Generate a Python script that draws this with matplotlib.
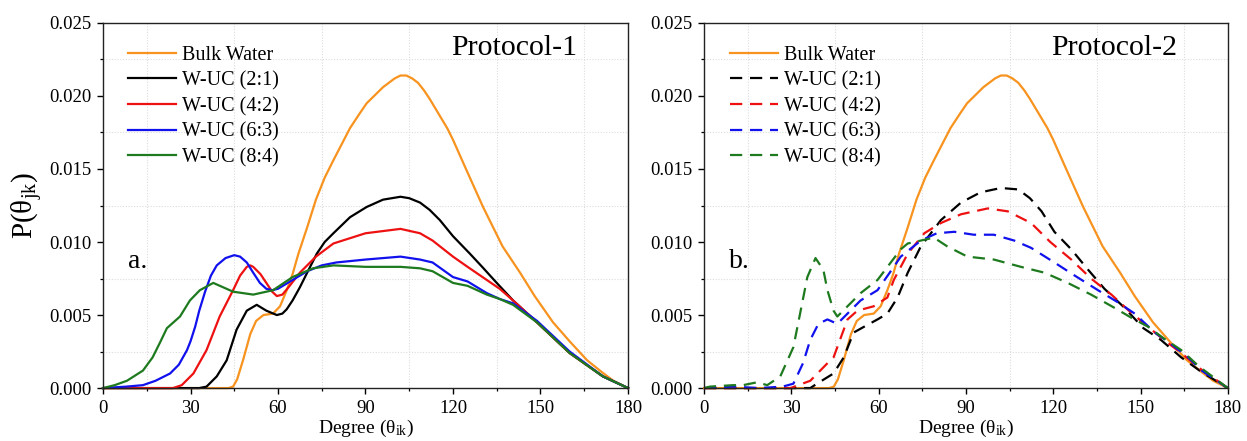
import matplotlib
matplotlib.use("Agg")
import matplotlib.pyplot as plt
from matplotlib.ticker import MultipleLocator, FormatStrFormatter

plt.rcParams["font.family"] = ["Liberation Serif", "DejaVu Serif"]
plt.rcParams["mathtext.fontset"] = "custom"
plt.rcParams["mathtext.rm"] = "Liberation Serif"
plt.rcParams["mathtext.it"] = "Liberation Serif:italic"

# ---- data: angle distributions P(theta_jk) ----
bulk_x = [0, 40, 43, 44.6, 46, 48, 50.5, 52.5, 55, 58.3, 60.7, 63, 65, 67, 70, 73, 76, 79, 84.7,
          88, 90.4, 96, 100, 102, 104, 106, 108, 110, 112, 115, 118, 120, 124, 130.3, 137, 143, 148,
          154.3, 160, 166, 171, 175, 180]
bulk_y = [0, 0, 0, 0.0001, 0.0006, 0.0019, 0.0037, 0.0046, 0.0050, 0.0051, 0.0056, 0.0067, 0.0078,
          0.0092, 0.0110, 0.0129, 0.0144, 0.0156, 0.0178, 0.0188, 0.0195, 0.0206, 0.0212, 0.0214,
          0.0214, 0.0212, 0.0209, 0.0204, 0.0198, 0.0188, 0.0178, 0.0170, 0.0152, 0.0124, 0.0097,
          0.0079, 0.0063, 0.0045, 0.0032, 0.0019, 0.0011, 0.0005, 0]

# Protocol-1
p1_21_x = [0, 33, 35.5, 39, 42.4, 45.8, 49.3, 52.7, 56, 59.6, 61.5, 63, 65, 67.5, 70, 73.3, 76, 79,
           84.7, 90.4, 96, 102, 105, 108.7, 112, 115.5, 120, 125.8, 130, 135, 140.6, 148.8, 160,
           171.4, 180]
p1_21_y = [0, 0, 0.0001, 0.0008, 0.0019, 0.0040, 0.0053, 0.0057, 0.0053, 0.0050, 0.0051, 0.0054,
           0.0060, 0.0069, 0.0079, 0.0092, 0.0100, 0.0106, 0.0117, 0.0124, 0.0129, 0.0131, 0.0130,
           0.0127, 0.0122, 0.0115, 0.0104, 0.0092, 0.0083, 0.0072, 0.0060, 0.0045, 0.0024, 0.0008, 0]
p1_42_x = [0, 24, 27, 31, 35.5, 40, 44.6, 47, 49.3, 50.5, 51.5, 54, 56, 58, 59.6, 61.5, 64, 67.5,
           73, 79, 90, 102, 108.7, 113, 120, 125, 131.6, 136, 140.6, 148.8, 160, 171.4, 180]
p1_42_y = [0, 0, 0.0002, 0.0010, 0.0026, 0.0049, 0.0067, 0.0077, 0.0083, 0.0084, 0.0083, 0.0078,
           0.0072, 0.0066, 0.0063, 0.0064, 0.0070, 0.0079, 0.0090, 0.0099, 0.0106, 0.0109, 0.0106,
           0.0101, 0.0090, 0.0083, 0.0074, 0.0068, 0.0060, 0.0045, 0.0024, 0.0008, 0]
p1_63_x = [0, 8, 13.7, 18, 23, 26, 28.8, 30, 31.6, 33, 35, 37, 39, 42, 45, 47, 49.3, 51.5, 53.8, 56,
           58, 60, 65, 70, 75, 80, 90, 102, 108.7, 113, 120, 125, 131.6, 136, 140.6, 148.8, 160,
           171.4, 180]
p1_63_y = [0, 0.0001, 0.0002, 0.0005, 0.0010, 0.0016, 0.0026, 0.0032, 0.0042, 0.0053, 0.0066,
           0.0077, 0.0084, 0.0089, 0.0091, 0.0090, 0.0086, 0.0079, 0.0072, 0.0068, 0.0067, 0.0068,
           0.0074, 0.0080, 0.0084, 0.0086, 0.0088, 0.0090, 0.0088, 0.0086, 0.0076, 0.0073, 0.0065,
           0.0061, 0.0058, 0.0046, 0.0025, 0.0008, 0]
p1_84_x = [0, 4, 8.2, 13.7, 17, 19.5, 21.9, 26.4, 29.8, 33.2, 37.8, 44.6, 51.5, 58.3, 65, 72, 79, 90,
           102, 108.7, 113, 120, 125, 131.6, 136, 140.6, 148.8, 160, 171.4, 180]
p1_84_y = [0, 0.0002, 0.0005, 0.0012, 0.0021, 0.0031, 0.0041, 0.0049, 0.0060, 0.0067, 0.0072,
           0.0066, 0.0064, 0.0067, 0.0076, 0.0082, 0.0084, 0.0083, 0.0083, 0.0082, 0.0080, 0.0072,
           0.0070, 0.0064, 0.0061, 0.0057, 0.0045, 0.0024, 0.0008, 0]

# Protocol-2
p2_21_x = [0, 36.5, 38.8, 44.5, 48, 51.4, 55, 59.6, 63, 66.5, 70, 74.5, 81.4, 88.3, 95, 102, 108,
           112, 116, 120.4, 126.2, 132, 137.6, 144.5, 151, 157, 164, 171, 180]
p2_21_y = [0, 0, 0.0003, 0.0010, 0.0021, 0.0038, 0.0042, 0.0047, 0.0051, 0.0062, 0.0079, 0.0097,
           0.0115, 0.0127, 0.0134, 0.0137, 0.0136, 0.0130, 0.0121, 0.0107, 0.0095, 0.0081, 0.0068,
           0.0055, 0.0041, 0.0033, 0.0021, 0.0011, 0]
p2_42_x = [0, 29.7, 36.5, 42.4, 44.5, 49.3, 52.7, 58.3, 63, 65.2, 70, 75.7, 81.4, 88.3, 97.5, 104.4,
           112.4, 119, 126.2, 133, 140, 146, 152.6, 158, 164, 170, 180]
p2_42_y = [0, 0, 0.0005, 0.0017, 0.0021, 0.0047, 0.0053, 0.0056, 0.0062, 0.0074, 0.0092, 0.0106,
           0.0113, 0.0119, 0.0123, 0.0121, 0.0113, 0.0100, 0.0088, 0.0075, 0.0064, 0.0053, 0.0042,
           0.0033, 0.0024, 0.0014, 0]
p2_63_x = [0, 10, 19, 27, 30.7, 34, 36.5, 39.3, 42.4, 45.8, 49.3, 53.8, 59.6, 65.2, 67.6, 74.5, 80,
           86, 92.7, 99.6, 106.6, 112.4, 120.4, 127.4, 135.4, 142, 148, 154.9, 160, 166.4, 171, 180]
p2_63_y = [0, 0.0001, 0, 0.0001, 0.0003, 0.0017, 0.0033, 0.0044, 0.0047, 0.0044, 0.0051, 0.0060,
           0.0067, 0.0083, 0.0090, 0.0101, 0.0106, 0.0107, 0.0105, 0.0105, 0.0101, 0.0096, 0.0086,
           0.0077, 0.0067, 0.0059, 0.0051, 0.0038, 0.0031, 0.0021, 0.0012, 0]
p2_84_x = [0, 2, 10, 13.4, 18.3, 21.7, 26.2, 30.7, 33, 35.5, 38.3, 41, 42.4, 44.5, 45.8, 49.3, 53.8,
           59.6, 67.6, 70, 74.5, 79, 83.6, 90.5, 99.6, 108.9, 117, 125, 133, 141, 147, 152.6, 158,
           164, 170, 180]
p2_84_y = [0, 0.0001, 0.0002, 0.0002, 0.0004, 0.0002, 0.0008, 0.0028, 0.0051, 0.0076, 0.0089,
           0.0081, 0.0067, 0.0053, 0.0049, 0.0056, 0.0065, 0.0074, 0.0095, 0.0099, 0.0101, 0.0103,
           0.0097, 0.0090, 0.0088, 0.0083, 0.0079, 0.0072, 0.0064, 0.0055, 0.0048, 0.0042, 0.0034,
           0.0026, 0.0015, 0]

labels = ["Bulk Water", "W-UC (2:1)", "W-UC (4:2)", "W-UC (6:3)", "W-UC (8:4)"]
colors = ["#F7931E", "#000000", "#EE1111", "#1111EE", "#1E7A1E"]
x_ticks = [0, 30, 60, 90, 120, 150, 180]
y_ticks = [0.000, 0.005, 0.010, 0.015, 0.020, 0.025]

panel1 = [(bulk_x, bulk_y), (p1_21_x, p1_21_y), (p1_42_x, p1_42_y), (p1_63_x, p1_63_y),
          (p1_84_x, p1_84_y)]
panel2 = [(bulk_x, bulk_y), (p2_21_x, p2_21_y), (p2_42_x, p2_42_y), (p2_63_x, p2_63_y),
          (p2_84_x, p2_84_y)]

fig = plt.figure(figsize=(12.47, 4.41), dpi=100)
ax1 = fig.add_axes([0.0826, 0.120, 0.421, 0.828])
ax2 = fig.add_axes([0.5646, 0.120, 0.420, 0.828])


def style_axes(ax):
    ax.set_xlim(0, 180)
    ax.set_ylim(0, 0.025)
    ax.set_xticks(x_ticks)
    ax.set_yticks(y_ticks)
    ax.xaxis.set_minor_locator(MultipleLocator(15))
    ax.yaxis.set_minor_locator(MultipleLocator(0.0025))
    ax.yaxis.set_major_formatter(FormatStrFormatter("%.3f"))
    ax.tick_params(which="major", direction="out", length=4.5, width=1.0, labelsize=13.5,
                   top=False, right=False, pad=4)
    ax.tick_params(which="minor", direction="out", length=2.5, width=0.9, top=False, right=False)
    ax.grid(which="minor", color="#dcdcdc", linestyle=(0, (1, 1.5)), linewidth=0.8)
    ax.grid(which="major", visible=False)
    ax.set_axisbelow(True)
    for sp in ax.spines.values():
        sp.set_linewidth(1.0)
        sp.set_color("#222222")
    ax.set_xlabel(r"Degree ($\mathrm{\theta_{ik}}$)", fontsize=14, labelpad=1)


for (xs, ys), lab, col in zip(panel1, labels, colors):
    ax1.plot(xs, ys, color=col, lw=1.6, label=lab, clip_on=False)

for i, ((xs, ys), lab, col) in enumerate(zip(panel2, labels, colors)):
    if i == 0:
        ax2.plot(xs, ys, color=col, lw=1.6, label=lab, clip_on=False)
    else:
        ax2.plot(xs, ys, color=col, lw=1.6, label=lab, dashes=(5.5, 3.5), clip_on=False)

for ax, tag, title, lx in [(ax1, "a.", "Protocol-1", 0.048), (ax2, "b.", "Protocol-2", 0.05)]:
    style_axes(ax)
    ax.text(8.5, 0.0082, tag, fontsize=20, ha="left", va="baseline")
    ax.text(141, 0.0233, title, fontsize=21.5, ha="center", va="center")
    ax.legend(loc="upper left", bbox_to_anchor=(lx, 0.938), frameon=False, fontsize=14.5,
              handlelength=2.35, handletextpad=0.3, labelspacing=0.32, borderaxespad=0,
              borderpad=0)

ax1.set_ylabel(r"P($\mathrm{\theta_{jk}}$)", fontsize=21, labelpad=3)

fig.savefig("out.png", dpi=100)
